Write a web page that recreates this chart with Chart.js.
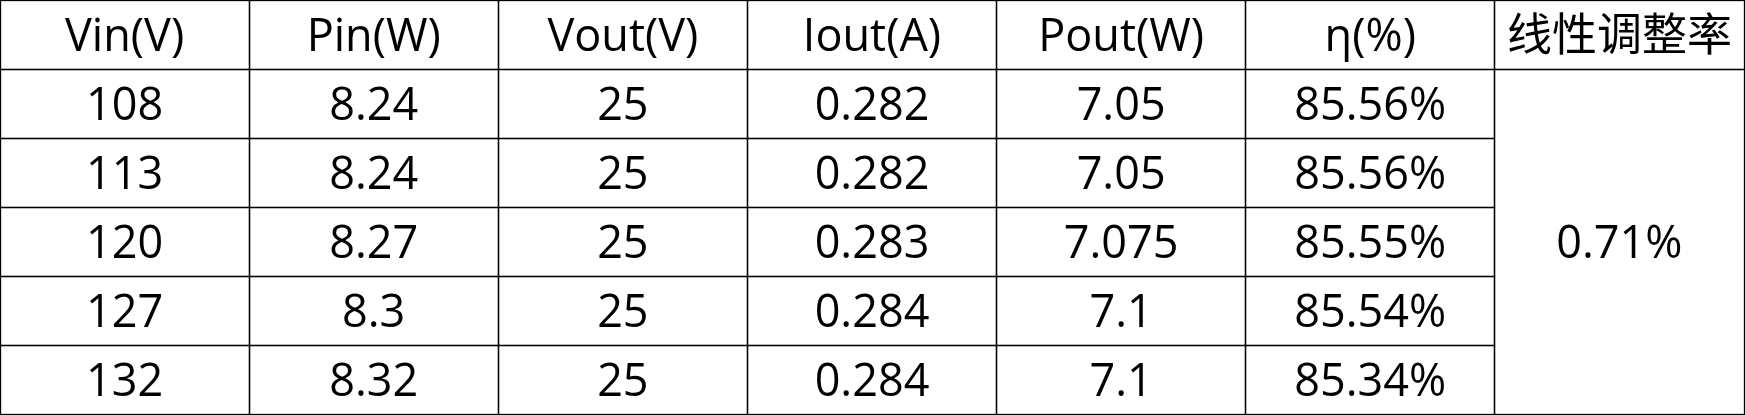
<!DOCTYPE html>
<html>
<head>
<meta charset="utf-8">
<style>
  html, body { margin: 0; padding: 0; background: #ffffff; }
  #wrap { width: 1745px; height: 415px; }
</style>
<script src="https://cdn.jsdelivr.net/npm/chart.js@4.4.1/dist/chart.umd.min.js"></script>
</head>
<body>
<div id="wrap"><canvas id="c" width="1745" height="415"></canvas></div>
<script>
const headers = ["Vin(V)", "Pin(W)", "Vout(V)", "Iout(A)", "Pout(W)", "η(%)", "线性调整率"];
const vin  = [108, 113, 120, 127, 132];
const pin  = [8.24, 8.24, 8.27, 8.3, 8.32];
const vout = [25, 25, 25, 25, 25];
const iout = [0.282, 0.282, 0.283, 0.284, 0.284];
const pout = [7.05, 7.05, 7.075, 7.1, 7.1];
const eta  = [85.56, 85.56, 85.55, 85.54, 85.34];
const lineRegulation = 0.71;

const columns = [vin, pin, vout, iout, pout, eta.map(v => v.toFixed(2) + "%")];

// build cell list: {col,row,colspan,rowspan,text}
const cells = [];
headers.forEach((h, i) => cells.push({col: i, row: 0, cs: 1, rs: 1, text: h}));
columns.forEach((arr, c) => arr.forEach((v, r) => cells.push({col: c, row: r + 1, cs: 1, rs: 1, text: String(v)})));
cells.push({col: 6, row: 1, cs: 1, rs: vin.length, text: lineRegulation.toFixed(2) + "%"});

const FONT = '45px "Open Sans", "Noto Sans CJK SC", sans-serif';

const tablePlugin = {
  id: 'tableCells',
  afterDraw(chart) {
    const ctx = chart.ctx;
    const xs = chart.scales.x, ys = chart.scales.y;
    const W = chart.width, H = chart.height;
    const snapX = v => Math.min(Math.floor(xs.getPixelForValue(v)) + 0.5, W - 0.5);
    const snapY = v => Math.min(Math.floor(ys.getPixelForValue(v)) + 0.5, H - 0.5);
    ctx.save();
    ctx.fillStyle = '#ffffff';
    ctx.fillRect(0, 0, W, H);
    ctx.strokeStyle = '#000000';
    ctx.lineWidth = 1.3;
    ctx.font = FONT;
    ctx.fillStyle = '#000000';
    ctx.textAlign = 'center';
    ctx.textBaseline = 'alphabetic';
    cells.forEach(cl => {
      const x0 = snapX(cl.col), x1 = snapX(cl.col + cl.cs);
      const y0 = snapY(cl.row), y1 = snapY(cl.row + cl.rs);
      ctx.strokeRect(x0, y0, x1 - x0, y1 - y0);
      const cx = (xs.getPixelForValue(cl.col) + xs.getPixelForValue(cl.col + cl.cs)) / 2;
      const cy = (ys.getPixelForValue(cl.row) + ys.getPixelForValue(cl.row + cl.rs)) / 2;
      ctx.fillText(cl.text, cx, cy + 16.5);
    });
    ctx.restore();
  }
};

new Chart(document.getElementById('c'), {
  type: 'scatter',
  data: { datasets: [] },
  options: {
    responsive: false,
    animation: false,
    layout: { padding: { left: 0, top: 0, right: 1, bottom: 1 } },
    plugins: { legend: { display: false }, tooltip: { enabled: false }, title: { display: false } },
    scales: {
      x: { type: 'linear', min: 0, max: headers.length, display: false },
      y: { type: 'linear', min: 0, max: vin.length + 1, reverse: true, display: false }
    }
  },
  plugins: [tablePlugin]
});
</script>
</body>
</html>
